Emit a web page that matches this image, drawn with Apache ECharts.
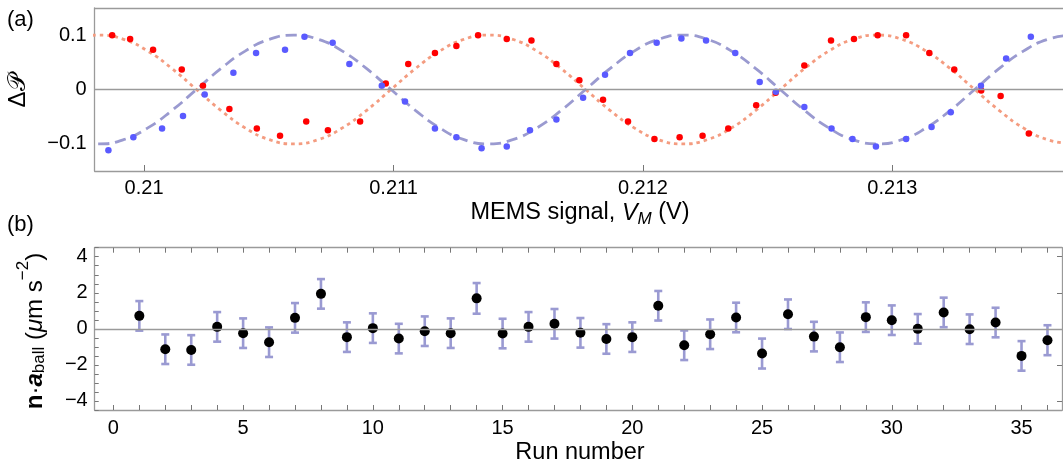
<!DOCTYPE html>
<html><head><meta charset="utf-8">
<script src="https://cdn.jsdelivr.net/npm/echarts@6/dist/echarts.min.js"></script>
<style>html,body{margin:0;padding:0;background:#fff}#c{width:1063px;height:472px}</style>
</head><body><div id="c"></div>
<script>
// ---- panel (a) data ----
const redX = [0.209872,0.209944,0.210036,0.210151,0.210236,0.210342,0.210452,0.210545,0.210650,0.210737,0.210866,0.210969,0.211059,0.211166,0.211252,0.211339,0.211454,0.211553,0.211653,0.211745,0.211840,0.211940,0.212046,0.212147,0.212239,0.212342,0.212454,0.212532,0.212647,0.212754,0.212846,0.212941,0.213055,0.213148,0.213248,0.213356,0.213434,0.213547];
const redY = [0.100,0.093,0.073,0.037,0.007,-0.036,-0.072,-0.085,-0.059,-0.075,-0.059,0.011,0.047,0.067,0.080,0.100,0.093,0.090,0.047,0.017,-0.019,-0.059,-0.091,-0.088,-0.085,-0.072,-0.029,-0.006,0.044,0.090,0.093,0.100,0.100,0.067,0.037,-0.002,-0.012,-0.081];
const blueX = [0.209857,0.209957,0.210072,0.210156,0.210243,0.210358,0.210449,0.210565,0.210643,0.210756,0.210823,0.210953,0.211046,0.211166,0.211252,0.211353,0.211454,0.211547,0.211653,0.211760,0.211848,0.211948,0.212055,0.212154,0.212253,0.212370,0.212468,0.212533,0.212647,0.212756,0.212840,0.212934,0.213055,0.213157,0.213234,0.213355,0.213456,0.213555];
const blueY = [-0.112,-0.088,-0.072,-0.049,-0.009,0.031,0.067,0.073,0.097,0.086,0.047,0.007,-0.022,-0.072,-0.088,-0.108,-0.105,-0.075,-0.055,-0.015,0.027,0.067,0.086,0.094,0.090,0.067,0.014,-0.004,-0.032,-0.072,-0.091,-0.105,-0.091,-0.069,-0.042,0.007,0.057,0.097];
// fitted curves
const curveX = [0.209625,0.2097225,0.20982,0.2099175,0.210015,0.2101125,0.21021,0.2103075,0.210405,0.2105025,0.2106,0.2106975,0.210795,0.2108925,0.21099,0.2110875,0.211185,0.2112825,0.21138,0.2114775,0.211575,0.2116725,0.21177,0.2118675,0.211965,0.2120625,0.21216,0.2122575,0.212355,0.2124525,0.21255,0.2126475,0.212745,0.2128425,0.21294,0.2130375,0.213135,0.2132325,0.21333,0.2134275,0.213525,0.2136225,0.21372];
const redCurve = [0.0707,0.0924,0.1,0.0924,0.0707,0.0383,0,-0.0383,-0.0707,-0.0924,-0.1,-0.0924,-0.0707,-0.0383,0,0.0383,0.0707,0.0924,0.1,0.0924,0.0707,0.0383,0,-0.0383,-0.0707,-0.0924,-0.1,-0.0924,-0.0707,-0.0383,0,0.0383,0.0707,0.0924,0.1,0.0924,0.0707,0.0383,0,-0.0383,-0.0707,-0.0924,-0.1];
const blueCurve = [-0.0707,-0.0924,-0.1,-0.0924,-0.0707,-0.0383,0,0.0383,0.0707,0.0924,0.1,0.0924,0.0707,0.0383,0,-0.0383,-0.0707,-0.0924,-0.1,-0.0924,-0.0707,-0.0383,0,0.0383,0.0707,0.0924,0.1,0.0924,0.0707,0.0383,0,-0.0383,-0.0707,-0.0924,-0.1,-0.0924,-0.0707,-0.0383,0,0.0383,0.0707,0.0924,0.1];
const topXTicks = [0.21,0.211,0.212,0.213];
const topYTicks = [-0.1,0,0.1];
// ---- panel (b) data ----
const runs = [1,2,3,4,5,6,7,8,9,10,11,12,13,14,15,16,17,18,19,20,21,22,23,24,25,26,27,28,29,30,31,32,33,34,35,36];
const accel = [0.72,-1.13,-1.17,0.11,-0.24,-0.74,0.61,1.94,-0.46,0.04,-0.54,-0.13,-0.24,1.69,-0.26,0.11,0.28,-0.22,-0.56,-0.46,1.28,-0.91,-0.30,0.63,-1.37,0.81,-0.43,-1.02,0.65,0.48,0.0,0.91,-0.02,0.35,-1.50,-0.63];
const accelErr = [0.82,0.82,0.82,0.82,0.82,0.82,0.82,0.82,0.82,0.82,0.82,0.82,0.82,0.85,0.82,0.82,0.82,0.82,0.82,0.82,0.82,0.82,0.82,0.82,0.83,0.82,0.82,0.82,0.82,0.82,0.82,0.82,0.82,0.82,0.82,0.83];
const botXTicks = [0,5,10,15,20,25,30,35];
const botXMinor = [0,1,2,3,4,5,6,7,8,9,10,11,12,13,14,15,16,17,18,19,20,21,22,23,24,25,26,27,28,29,30,31,32,33,34,35,36];
const botYTicks = [-4,-2,0,2,4];
const botYMinor = [-4.5,-4,-3.5,-3,-2.5,-2,-1.5,-1,-0.5,0,0.5,1,1.5,2,2.5,3,3.5,4,4.5];

const FONT = 'Liberation Sans, Arial, Helvetica, sans-serif';
const frame = {color:'#9a9a9a', width:1.3};
const minus = v => (Math.round(v*1000)/1000).toString().replace('-', '\u2212');

const chart = echarts.init(document.getElementById('c'), null, {renderer:'canvas'});
const lbl = {fontSize:20, color:'#000', fontFamily:FONT};

chart.setOption({
  animation:false,
  grid:[
    {left:94.7, top:8, width:968.3, height:163},
    {left:94.7, top:247.7, width:967.3, height:162.3}
  ],
  xAxis:[
    {gridIndex:0, type:'value', min:0.209802, max:0.213684, position:'bottom',
     axisLine:{show:true, onZero:false, lineStyle:frame},
     axisTick:{show:true, inside:true, length:6, customValues:topXTicks, lineStyle:{color:'#777', width:1}},
     axisLabel:Object.assign({customValues:topXTicks, margin:7, formatter:v=>minus(v)}, lbl),
     splitLine:{show:false}},
    {gridIndex:0, type:'value', min:0.209802, max:0.213684, position:'top',
     axisLine:{show:true, onZero:false, lineStyle:frame}, axisTick:{show:false}, axisLabel:{show:false}, splitLine:{show:false}},
    {gridIndex:1, type:'value', min:-0.72, max:36.56, position:'bottom',
     axisLine:{show:true, onZero:false, lineStyle:frame},
     axisTick:{show:true, inside:true, length:5, customValues:botXMinor, lineStyle:{color:'#777', width:1}},
     axisLabel:Object.assign({customValues:botXTicks, margin:8, formatter:v=>minus(v)}, lbl),
     splitLine:{show:false}},
    {gridIndex:1, type:'value', min:-0.72, max:36.56, position:'top',
     axisLine:{show:true, onZero:false, lineStyle:frame},
     axisTick:{show:true, inside:true, length:5, customValues:botXMinor, lineStyle:{color:'#777', width:1}},
     axisLabel:{show:false}, splitLine:{show:false}}
  ],
  yAxis:[
    {gridIndex:0, type:'value', min:-0.15, max:0.15, position:'left',
     axisLine:{show:true, onZero:false, lineStyle:frame}, axisTick:{show:false},
     axisLabel:Object.assign({customValues:topYTicks, margin:8, formatter:v=>minus(v)}, lbl),
     splitLine:{show:false}},
    {gridIndex:1, type:'value', min:-4.5, max:4.5, position:'left',
     axisLine:{show:true, onZero:false, lineStyle:frame},
     axisTick:{show:true, inside:true, length:4, customValues:botYMinor, lineStyle:{color:'#777', width:1}},
     axisLabel:Object.assign({customValues:botYTicks, margin:7, formatter:v=>minus(v)}, lbl),
     splitLine:{show:false}},
    {gridIndex:1, type:'value', min:-4.5, max:4.5, position:'right',
     axisLine:{show:true, onZero:false, lineStyle:frame},
     axisTick:{show:true, inside:true, length:5, customValues:botYTicks, lineStyle:{color:'#777', width:1}},
     axisLabel:{show:false}, splitLine:{show:false}}
  ],
  series:[
    {type:'line', xAxisIndex:0, yAxisIndex:0, data:curveX.map((x,i)=>[x, redCurve[i]]), smooth:0.5,
     showSymbol:false, clip:true, z:2, lineStyle:{color:'#f49c80', width:2.8, type:[3.5,4]},
     markLine:{silent:true, symbol:'none', label:{show:false}, lineStyle:{color:'#9a9a9a', width:1.3, type:'solid'}, data:[{yAxis:0}]}},
    {type:'line', xAxisIndex:0, yAxisIndex:0, data:curveX.map((x,i)=>[x, blueCurve[i]]), smooth:0.5,
     showSymbol:false, clip:true, z:2, lineStyle:{color:'#9a9ad0', width:2.8, type:[11,6]}},
    {type:'scatter', xAxisIndex:0, yAxisIndex:0, data:redX.map((x,i)=>[x, redY[i]]), symbolSize:6.5, z:3,
     itemStyle:{color:'#ff0000', opacity:1}},
    {type:'scatter', xAxisIndex:0, yAxisIndex:0, data:blueX.map((x,i)=>[x, blueY[i]]), symbolSize:6.5, z:3,
     itemStyle:{color:'#5a5aff', opacity:1}},
    {type:'custom', xAxisIndex:2, yAxisIndex:1, z:3,
     data:runs.map((r,i)=>[r, accel[i]-accelErr[i], accel[i]+accelErr[i]]),
     encode:{x:0, y:[1,2]},
     renderItem:function(params, api){
       const lo = api.coord([api.value(0), api.value(1)]);
       const hi = api.coord([api.value(0), api.value(2)]);
       const w = 4;
       const st = {stroke:'#9a9ad2', lineWidth:2.6};
       return {type:'group', children:[
         {type:'line', shape:{x1:lo[0], y1:lo[1], x2:hi[0], y2:hi[1]}, style:st},
         {type:'line', shape:{x1:lo[0]-w, y1:lo[1], x2:lo[0]+w, y2:lo[1]}, style:st},
         {type:'line', shape:{x1:hi[0]-w, y1:hi[1], x2:hi[0]+w, y2:hi[1]}, style:st}
       ]};
     }},
    {type:'scatter', xAxisIndex:2, yAxisIndex:1, data:runs.map((r,i)=>[r, accel[i]]), symbolSize:10, z:4,
     itemStyle:{color:'#000', opacity:1},
     markLine:{silent:true, symbol:'none', label:{show:false}, lineStyle:{color:'#9a9a9a', width:1.3, type:'solid'}, data:[{yAxis:0}]}}
  ],
  graphic:[
    {type:'text', x:7, y:20, style:{text:'(a)', fontSize:22, fontFamily:FONT, fill:'#000', textAlign:'left', textVerticalAlign:'middle', align:'left', verticalAlign:'middle'}},
    {type:'text', x:7, y:225, style:{text:'(b)', fontSize:22, fontFamily:FONT, fill:'#000', textAlign:'left', textVerticalAlign:'middle', align:'left', verticalAlign:'middle'}},
    {type:'text', x:18, y:91, rotation:Math.PI/2,
     style:{text:'\u0394\uD835\uDCAB', fontSize:24, fontFamily:FONT, fill:'#000', textAlign:'center', textVerticalAlign:'middle', align:'center', verticalAlign:'middle'}},
    {type:'text', x:580, y:213,
     style:{text:'{r|MEMS signal, }{i|V}{s|M}{r| (V)}', fill:'#000', textAlign:'center', textVerticalAlign:'middle', align:'center', verticalAlign:'middle',
       rich:{
         r:{fontSize:23.5, lineHeight:30, fontFamily:FONT, fill:'#000', verticalAlign:'middle'},
         i:{fontSize:23.5, lineHeight:30, fontFamily:FONT, fontStyle:'italic', fill:'#000', verticalAlign:'middle'},
         s:{fontSize:17, lineHeight:16, fontFamily:FONT, fontStyle:'italic', fill:'#000', verticalAlign:'bottom'}
       }}},
    {type:'text', x:580, y:453,
     style:{text:'Run number', fontSize:23.5, fontFamily:FONT, fill:'#000', textAlign:'center', textVerticalAlign:'middle', align:'center', verticalAlign:'middle'}},
    {type:'text', x:35, y:331, rotation:Math.PI/2,
     style:{text:'{b|n}{r|\u00B7}{bi|a}{sub|ball}{r| (}{i|\u03BC}{r|m s}{sup|\u22122}{r|)}', fill:'#000', textAlign:'center', textVerticalAlign:'middle', align:'center', verticalAlign:'middle',
       rich:{
         r:{fontSize:24, lineHeight:40, fontFamily:FONT, fill:'#000', verticalAlign:'middle'},
         b:{fontSize:24, lineHeight:40, fontFamily:FONT, fontWeight:'bold', fill:'#000', verticalAlign:'middle'},
         bi:{fontSize:24, lineHeight:40, fontFamily:FONT, fontWeight:'bold', fontStyle:'italic', fill:'#000', verticalAlign:'middle'},
         i:{fontSize:24, lineHeight:40, fontFamily:FONT, fontStyle:'italic', fill:'#000', verticalAlign:'middle'},
         sub:{fontSize:17, lineHeight:17, fontFamily:FONT, fill:'#000', verticalAlign:'middle', padding:[8,0,0,0]},
         sup:{fontSize:17, lineHeight:17, fontFamily:FONT, fill:'#000', verticalAlign:'top'}
       }}}
  ]
});
</script>
</body></html>
